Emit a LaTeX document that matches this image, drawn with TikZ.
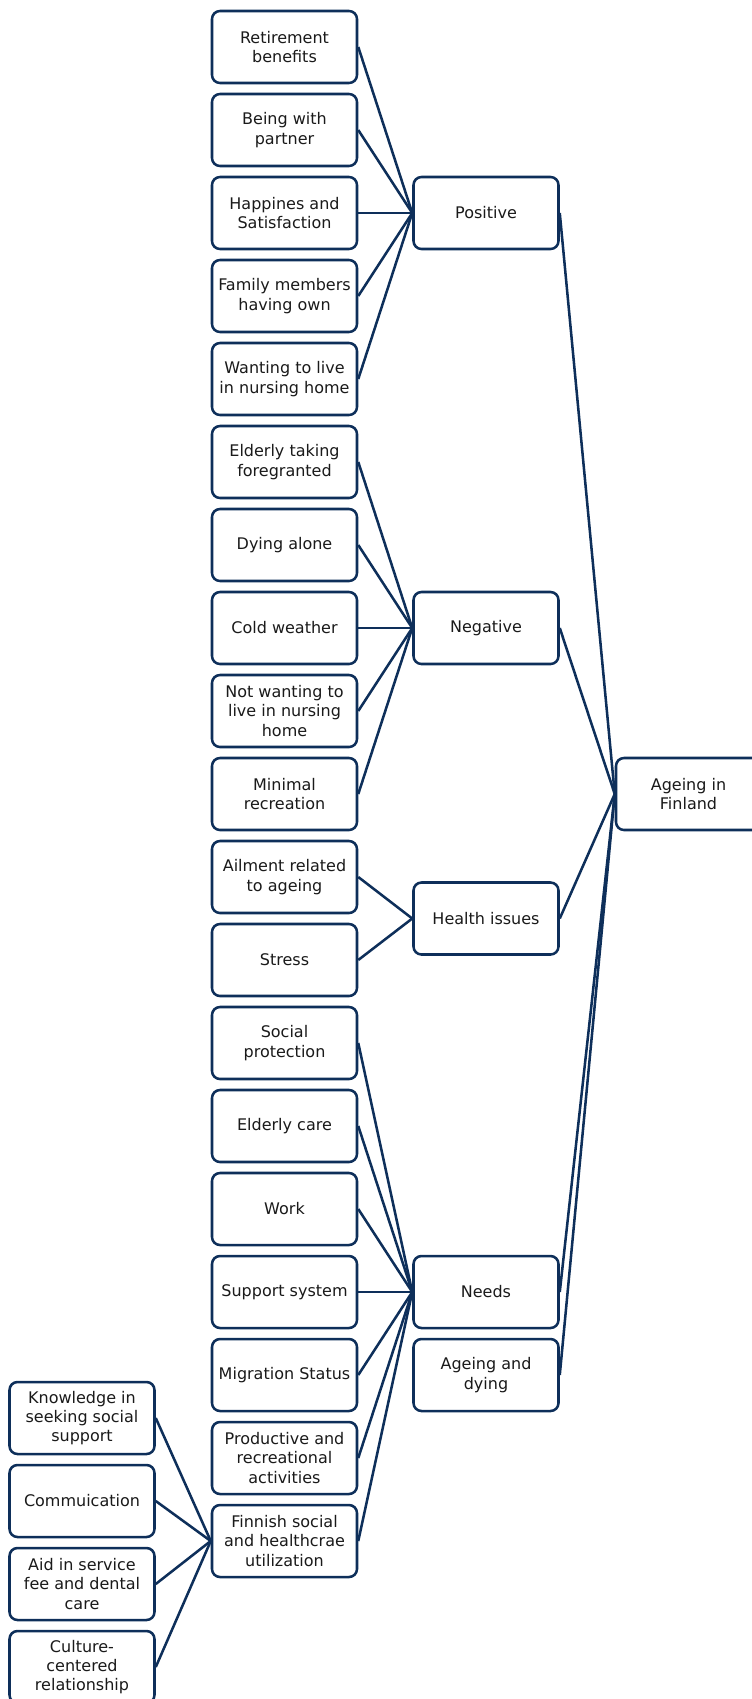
\documentclass[tikz,border=0pt]{standalone}
\usepackage{fontspec}
\setmainfont{DejaVu Sans}
\definecolor{navy}{HTML}{0E2F5A}
\definecolor{txt}{HTML}{1A1A1A}
\begin{document}
\begin{tikzpicture}[x=0.75pt,y=-0.75pt,
  box/.style={draw=navy,line width=1.9pt,rounded corners=6pt,fill=white,
    minimum width=108.75pt,minimum height=54pt,inner sep=1pt,align=center,
    text=txt,font=\fontsize{12pt}{14.4pt}\selectfont},
  link/.style={draw=navy,line width=1.9pt}]
\useasboundingbox (0,0) rectangle (752,1699);
\clip (0,0) rectangle (752,1699);
% left column
\node[box] (l0) at (284.5,47) {Retirement\\benefits};
\node[box] (l1) at (284.5,130) {Being with\\partner};
\node[box] (l2) at (284.5,213) {Happines and\\Satisfaction};
\node[box] (l3) at (284.5,296) {Family members\\having own};
\node[box] (l4) at (284.5,379) {Wanting to live\\in nursing home};
\node[box] (l5) at (284.5,462) {Elderly taking\\foregranted};
\node[box] (l6) at (284.5,545) {Dying alone};
\node[box] (l7) at (284.5,628) {Cold weather};
\node[box] (l8) at (284.5,711) {Not wanting to\\live in nursing\\home};
\node[box] (l9) at (284.5,794) {Minimal\\recreation};
\node[box] (l10) at (284.5,877) {Ailment related\\to ageing};
\node[box] (l11) at (284.5,960) {Stress};
\node[box] (l12) at (284.5,1043) {Social\\protection};
\node[box] (l13) at (284.5,1126) {Elderly care};
\node[box] (l14) at (284.5,1209) {Work};
\node[box] (l15) at (284.5,1292) {Support system};
\node[box] (l16) at (284.5,1375) {Migration Status};
\node[box] (l17) at (284.5,1458) {Productive and\\recreational\\activities};
\node[box] (l18) at (284.5,1541) {Finnish social\\and healthcrae\\utilization};
% far left
\node[box] (f0) at (82,1418) {Knowledge in\\seeking social\\support};
\node[box] (f1) at (82,1501) {Commuication};
\node[box] (f2) at (82,1584) {Aid in service\\fee and dental\\care};
\node[box] (f3) at (82,1667) {Culture-\\centered\\relationship};
% middle
\node[box] (pos) at (486,213) {Positive};
\node[box] (neg) at (486,628) {Negative};
\node[box] (hea) at (486,918.5) {Health issues};
\node[box] (nee) at (486,1292) {Needs};
\node[box] (aad) at (486,1375) {Ageing and\\dying};
% root
\node[box] (root) at (688.5,794) {Ageing in\\Finland};
% connectors
\foreach \i in {0,...,4} \draw[link] (l\i.east) -- (pos.west);
\foreach \i in {5,...,9} \draw[link] (l\i.east) -- (neg.west);
\foreach \i in {10,11} \draw[link] (l\i.east) -- (hea.west);
\foreach \i in {12,...,18} \draw[link] (l\i.east) -- (nee.west);
\foreach \i in {0,...,3} \draw[link] (f\i.east) -- (l18.west);
\foreach \m in {pos,neg,hea,nee,aad} \draw[link] (\m.east) -- (root.west);
\end{tikzpicture}
\end{document}
